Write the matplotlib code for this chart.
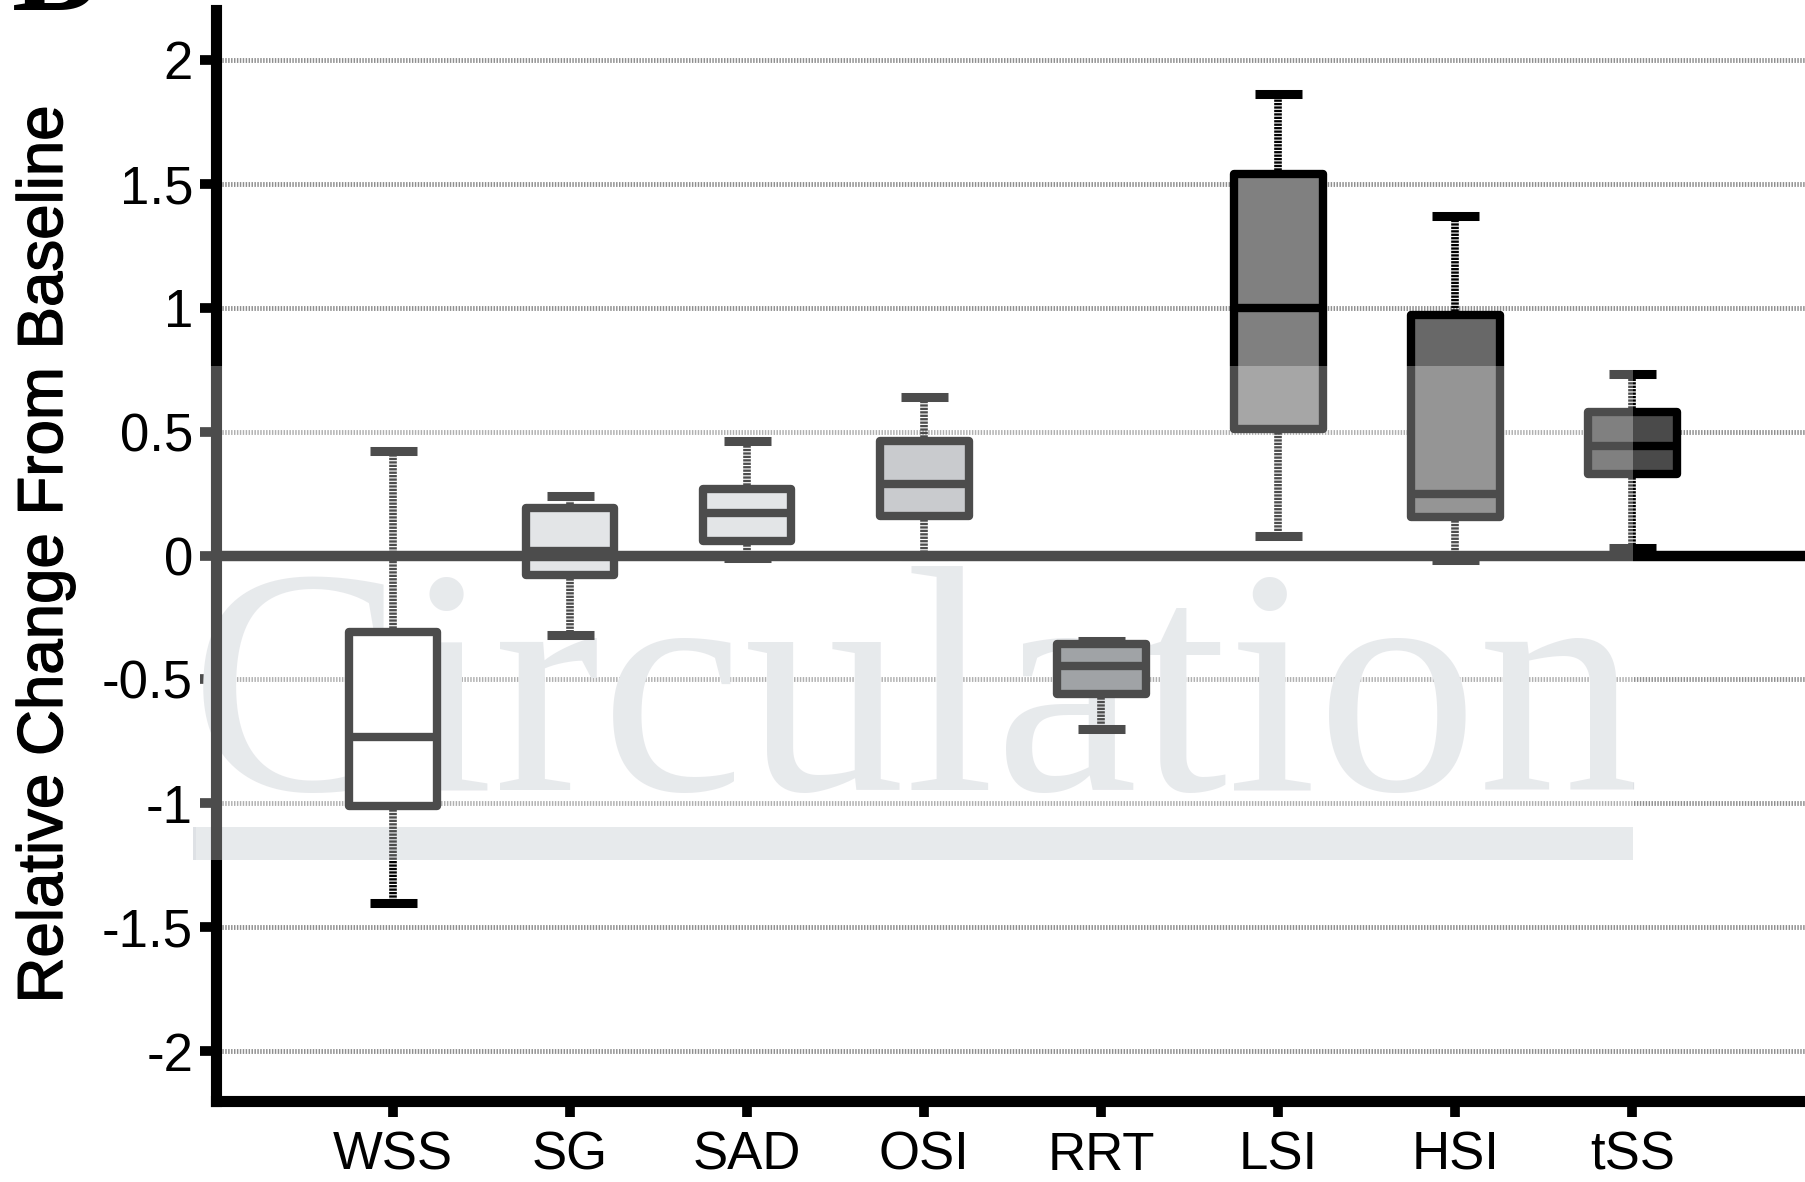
import matplotlib
matplotlib.use("Agg")
import matplotlib.pyplot as plt
import matplotlib.patheffects as pe
from matplotlib.patches import Rectangle

categories = ["WSS", "SG", "SAD", "OSI", "RRT", "LSI", "HSI", "tSS"]
whislo = [-1.40, -0.32, -0.01, 0.00, -0.70, 0.08, -0.02, 0.03]
q1 = [-1.01, -0.08, 0.06, 0.16, -0.56, 0.51, 0.155, 0.33]
med = [-0.73, 0.02, 0.17, 0.29, -0.445, 1.00, 0.25, 0.44]
q3 = [-0.31, 0.19, 0.27, 0.46, -0.355, 1.54, 0.97, 0.58]
whishi = [0.42, 0.24, 0.46, 0.64, -0.345, 1.86, 1.37, 0.73]
fills = ["#ffffff", "#d7dade", "#d7dade", "#b2b5ba", "#777c80", "#808080", "#686868", "#4a4a4a"]

yticks = [-2, -1.5, -1, -0.5, 0, 0.5, 1, 1.5, 2]
ytick_labels = ["-2", "-1.5", "-1", "-0.5", "0", "0.5", "1", "1.5", "2"]

plt.rcParams["font.family"] = ["Liberation Sans", "DejaVu Sans"]

W, H = 1806, 1182
fig = plt.figure(figsize=(W / 100, H / 100), dpi=100)
ax = fig.add_axes([216 / W, 1 - 1101 / H, 1 - 216 / W, (1101 - 10) / H])

stats = []
for i, name in enumerate(categories):
    stats.append({"label": name, "whislo": whislo[i], "q1": q1[i], "med": med[i],
                  "q3": q3[i], "whishi": whishi[i], "fliers": []})

bp = ax.bxp(stats, positions=range(len(categories)), widths=0.5, capwidths=0.265,
            patch_artist=True, showfliers=False,
            boxprops=dict(linewidth=6, edgecolor="black", joinstyle="round"),
            whiskerprops=dict(linewidth=5.5, color="black", linestyle=(0, (0.3, 0.15))),
            capprops=dict(linewidth=6.5, color="black", solid_capstyle="butt"),
            medianprops=dict(linewidth=6, color="black", solid_capstyle="butt"))
for box, c in zip(bp["boxes"], fills):
    box.set_facecolor(c)
    box.set_zorder(2)

ax.axhline(0, color="black", linewidth=7.5, zorder=3)

ax.set_xlim(-1, 7.98)
ax.set_ylim(-2.2, 2.2)
ax.set_yticks(yticks)
ax.set_yticklabels(ytick_labels)
ax.set_xticks(range(len(categories)))
ax.set_xticklabels(categories)

ax.set_axisbelow(True)
ax.yaxis.grid(True, color="#8f8f8f", linewidth=3.5, linestyle=(0, (0.3, 0.3)))
ax.xaxis.grid(False)

for s in ["top", "right"]:
    ax.spines[s].set_visible(False)
for s in ["left", "bottom"]:
    ax.spines[s].set_linewidth(8)
    ax.spines[s].set_color("black")

ax.tick_params(axis="both", direction="out", length=11.5, width=7, labelsize=38,
               color="black", labelcolor="black")
ax.tick_params(axis="y", pad=5)
ax.tick_params(axis="x", pad=10)

fig.text(45 / W, 1 - 554 / H, "Relative Change From Baseline", rotation=90,
         ha="center", va="center", fontsize=45.8,
         path_effects=[pe.withStroke(linewidth=1.0, foreground="black")])

# cut-off panel letter at the top edge
fig.text(12 / W, 1 - 10 / H, "B", fontsize=92, fontweight="bold",
         family="Liberation Serif", va="baseline", ha="left")

# journal watermark
ax.text(190 / W, 1 - 790 / H, "Circulation", transform=fig.transFigure,
        family="Liberation Serif", fontsize=232, color="#dee1e5",
        ha="left", va="baseline", zorder=1.6, clip_on=False)
ax.add_patch(Rectangle((193 / W, 1 - 860 / H), (1633 - 193) / W, 33 / H,
                       transform=fig.transFigure, facecolor="#dee1e5",
                       edgecolor="none", zorder=1.6, clip_on=False))
ax.add_patch(Rectangle((196 / W, 1 - 860 / H), (1633 - 196) / W, (860 - 366) / H,
                       transform=fig.transFigure, facecolor="white", alpha=0.3,
                       edgecolor="none", zorder=10, clip_on=False))

fig.savefig("out.png", dpi=100)
